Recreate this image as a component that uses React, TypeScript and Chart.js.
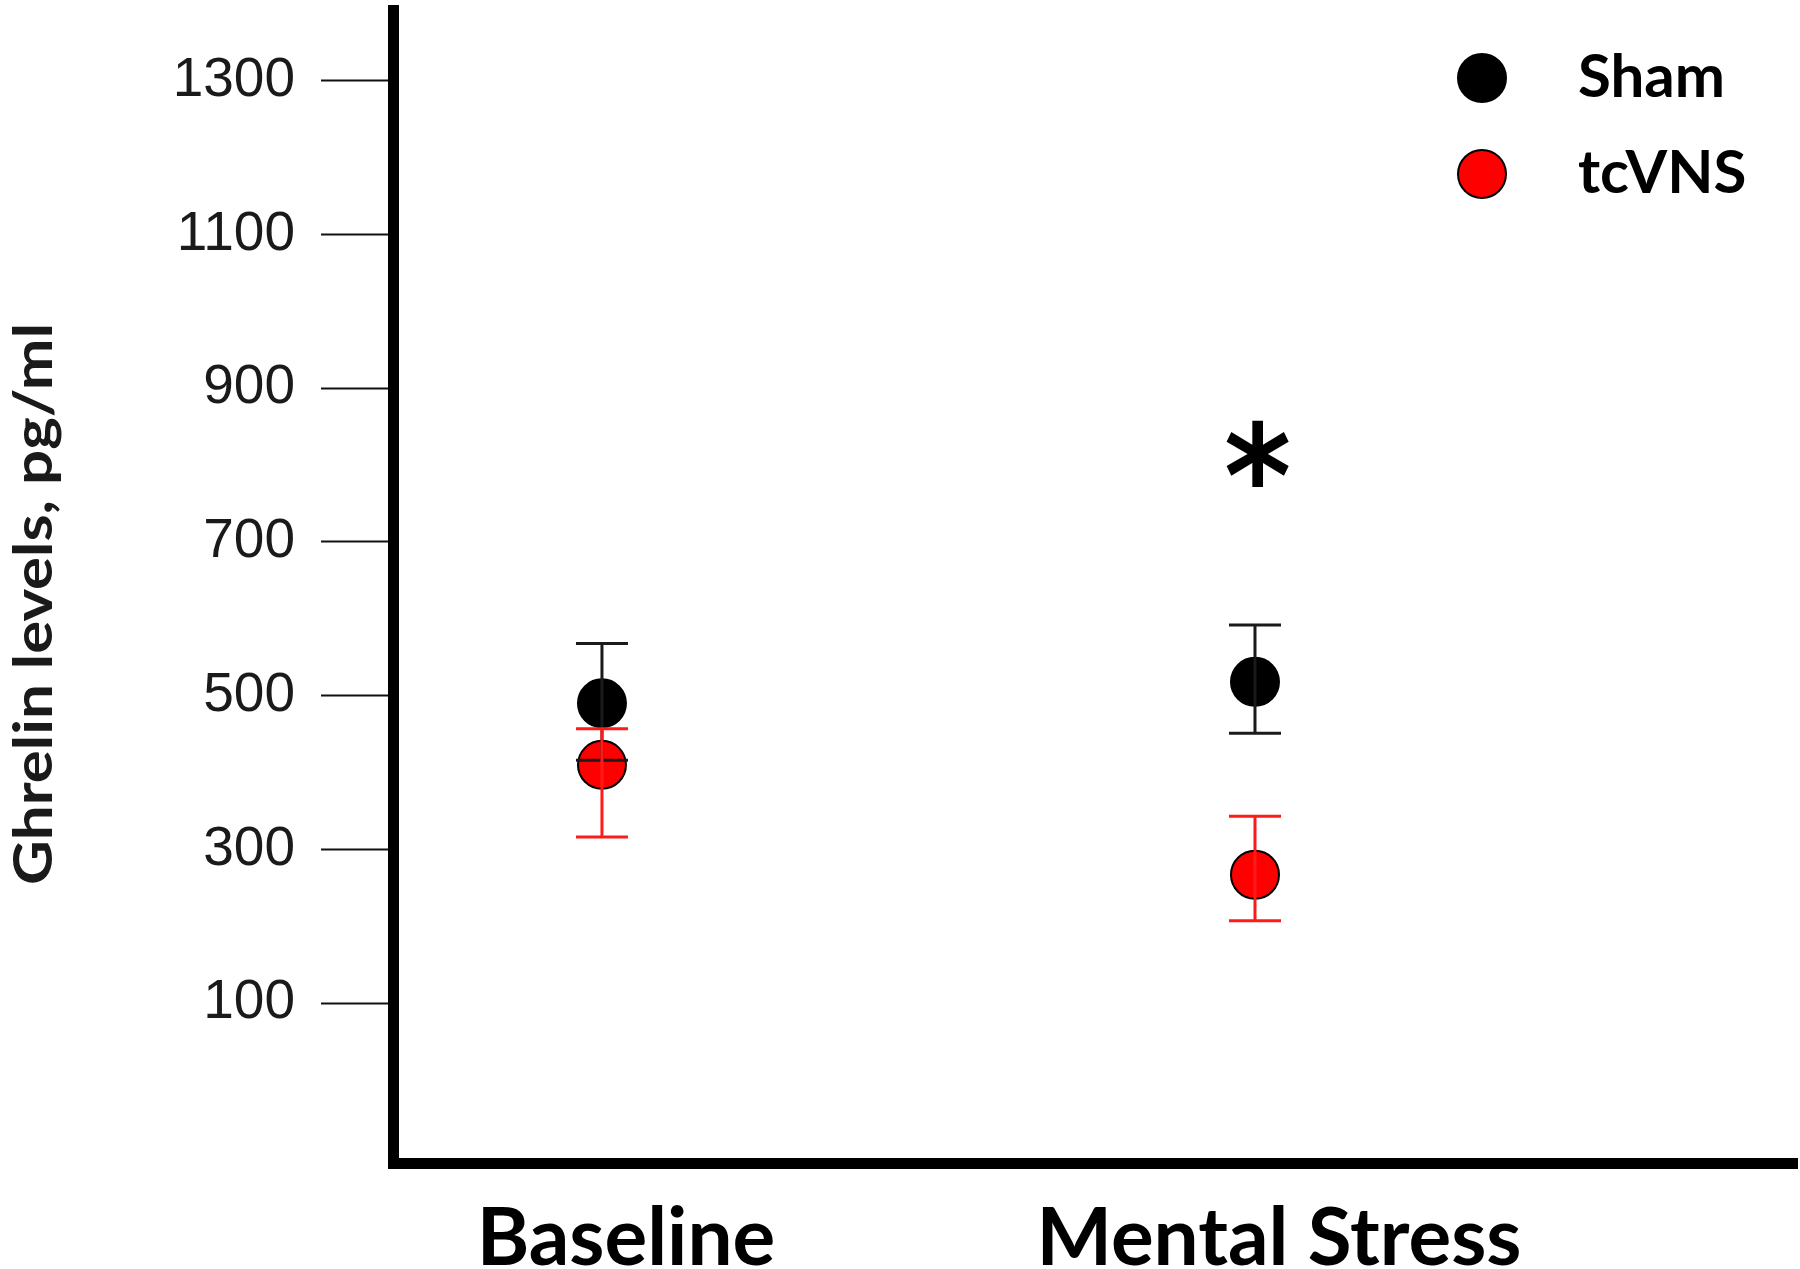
import { useEffect, useRef } from "react";
import { Chart, registerables } from "chart.js";

Chart.register(...registerables);

// ---- data ----
const categories = ["Baseline", "Mental Stress"];
const seriesNames = ["Sham", "tcVNS"];
const shamMean = [490, 518];
const shamUpper = [568, 592];
const shamLower = [416, 451];
const tcvnsMean = [410, 267];
const tcvnsUpper = [457, 343];
const tcvnsLower = [316, 207];
const yTicks = [100, 300, 500, 700, 900, 1100, 1300];
const yTitle = "Ghrelin levels, pg/ml";
const sigCategoryIndex = 1;
const sigValue = 815;
const sigLabel = "*";

const errorBarPlugin = {
  id: "errorBars",
  afterDatasetsDraw(chart: any) {
    const ctx = chart.ctx;
    const ys = chart.scales.y;
    chart.data.datasets.forEach((ds: any, i: number) => {
      const meta = chart.getDatasetMeta(i);
      ctx.save();
      ctx.strokeStyle = ds.errorColor;
      ctx.lineWidth = 3;
      meta.data.forEach((pt: any, j: number) => {
        const x = pt.x;
        const yHi = ys.getPixelForValue(ds.errHigh[j]);
        const yLo = ys.getPixelForValue(ds.errLow[j]);
        const cap = 26;
        ctx.beginPath();
        ctx.moveTo(x, yHi);
        ctx.lineTo(x, yLo);
        ctx.moveTo(x - cap, yHi);
        ctx.lineTo(x + cap, yHi);
        ctx.moveTo(x - cap, yLo);
        ctx.lineTo(x + cap, yLo);
        ctx.stroke();
      });
      ctx.restore();
    });
  },
};

const decorPlugin = {
  id: "decor",
  afterDraw(chart: any) {
    const ctx = chart.ctx;
    // y axis title
    ctx.save();
    ctx.font = "bold 54px Lato";
    const w = ctx.measureText(yTitle).width;
    ctx.translate(52, 604);
    ctx.rotate(-Math.PI / 2);
    ctx.scale(562 / w, 1);
    ctx.textAlign = "center";
    ctx.textBaseline = "alphabetic";
    ctx.fillStyle = "#1a1a1a";
    ctx.fillText(yTitle, 0, 0);
    ctx.restore();

    // legend
    chart.data.datasets.forEach((ds: any, i: number) => {
      const cy = 78 + i * 96;
      ctx.save();
      ctx.beginPath();
      ctx.arc(1482, cy, 24, 0, Math.PI * 2);
      ctx.fillStyle = ds.backgroundColor;
      ctx.fill();
      ctx.lineWidth = ds.borderWidth;
      ctx.strokeStyle = ds.borderColor;
      ctx.stroke();
      ctx.font = "bold 60px Lato";
      ctx.fillStyle = "#000";
      ctx.textAlign = "left";
      ctx.textBaseline = "middle";
      ctx.fillText(ds.label, 1578, cy);
      ctx.restore();
    });

    // significance marker
    const xs = chart.scales.x;
    const ys = chart.scales.y;
    const cx = xs.getPixelForValue(sigCategoryIndex + 1);
    const cyS = ys.getPixelForValue(sigValue);
    ctx.save();
    ctx.font = "bold 100px 'DejaVu Sans'";
    const m = ctx.measureText(sigLabel);
    const gw = m.actualBoundingBoxLeft + m.actualBoundingBoxRight;
    const gh = m.actualBoundingBoxAscent + m.actualBoundingBoxDescent;
    const sx = 63 / gw;
    const sy = 67 / gh;
    ctx.translate(cx + 3, cyS);
    ctx.scale(sx, sy);
    ctx.textAlign = "left";
    ctx.textBaseline = "alphabetic";
    ctx.fillStyle = "#000";
    const ox = -(m.actualBoundingBoxRight - m.actualBoundingBoxLeft) / 2;
    const oy = -(m.actualBoundingBoxDescent - m.actualBoundingBoxAscent) / 2;
    ctx.fillText(sigLabel, ox, oy);
    ctx.restore();
  },
};

export default function App() {
  const ref = useRef<HTMLCanvasElement | null>(null);

  useEffect(() => {
    document.body.style.margin = "0";
    let chart: Chart | null = null;
    let cancelled = false;
    const make = () => {
      if (cancelled || !ref.current) return;
      chart = new Chart(ref.current, {
        type: "scatter",
        data: {
          datasets: [
            {
              label: seriesNames[0],
              data: shamMean.map((v, i) => ({ x: i + 1, y: v })),
              errHigh: shamUpper,
              errLow: shamLower,
              errorColor: "#1a1a1a",
              backgroundColor: "#000000",
              borderColor: "#000000",
              borderWidth: 2,
              pointRadius: 24,
              pointHoverRadius: 24,
            } as any,
            {
              label: seriesNames[1],
              data: tcvnsMean.map((v, i) => ({ x: i + 1, y: v })),
              errHigh: tcvnsUpper,
              errLow: tcvnsLower,
              errorColor: "#ff1a1a",
              backgroundColor: "#ff0000",
              borderColor: "#000000",
              borderWidth: 2,
              pointRadius: 24,
              pointHoverRadius: 24,
            } as any,
          ],
        },
        options: {
          animation: false,
          responsive: false,
          events: [],
          layout: { autoPadding: false, padding: { top: 10, right: 3, left: 0, bottom: 0 } },
          plugins: { legend: { display: false }, tooltip: { enabled: false } },
          scales: {
            x: {
              type: "linear",
              min: 0.68,
              max: 2.83,
              afterBuildTicks: (s: any) => {
                s.ticks = categories.map((_, i) => ({ value: i + 1 }));
              },
              afterFit: (s: any) => {
                s.height = 106;
                s.paddingLeft = 0;
                s.paddingRight = 0;
                s.paddingTop = 0;
                s.paddingBottom = 0;
              },
              grid: { display: true, drawOnChartArea: false, drawTicks: false },
              border: { display: true, width: 11, color: "#000" },
              ticks: {
                autoSkip: false,
                maxRotation: 0,
                callback: (_v: any, idx: number) => categories[idx],
                font: { family: "Lato", weight: "bold", size: 80, lineHeight: 1 },
                color: "#000",
                padding: 36,
                labelOffset: 24,
              },
            },
            y: {
              type: "linear",
              min: -108,
              max: 1392,
              afterBuildTicks: (s: any) => {
                s.ticks = yTicks.map((v) => ({ value: v }));
              },
              afterFit: (s: any) => {
                s.width = 393;
                s.paddingLeft = 0;
                s.paddingRight = 0;
                s.paddingTop = 0;
                s.paddingBottom = 0;
              },
              grid: {
                drawOnChartArea: false,
                drawTicks: true,
                tickLength: 72,
                tickWidth: 2,
                tickColor: "#111",
              },
              border: { display: true, width: 11, color: "#000" },
              ticks: {
                callback: (v: any) => String(v),
                font: { family: "Liberation Sans", size: 55 },
                color: "#1a1a1a",
                padding: 26,
              },
            },
          },
        } as any,
        plugins: [errorBarPlugin, decorPlugin],
      });
    };
    const fontsReady = (document as any).fonts
      ? Promise.all([
          document.fonts.load("bold 80px Lato"),
          document.fonts.load("55px 'Liberation Sans'"),
          document.fonts.load("bold 100px 'DejaVu Sans'"),
        ]).catch(() => null)
      : Promise.resolve(null);
    fontsReady.then(make);
    return () => {
      cancelled = true;
      if (chart) chart.destroy();
    };
  }, []);

  return (
    <div style={{ width: 1800, height: 1269 }}>
      <canvas ref={ref} width={1800} height={1269} style={{ display: "block" }} />
    </div>
  );
}
